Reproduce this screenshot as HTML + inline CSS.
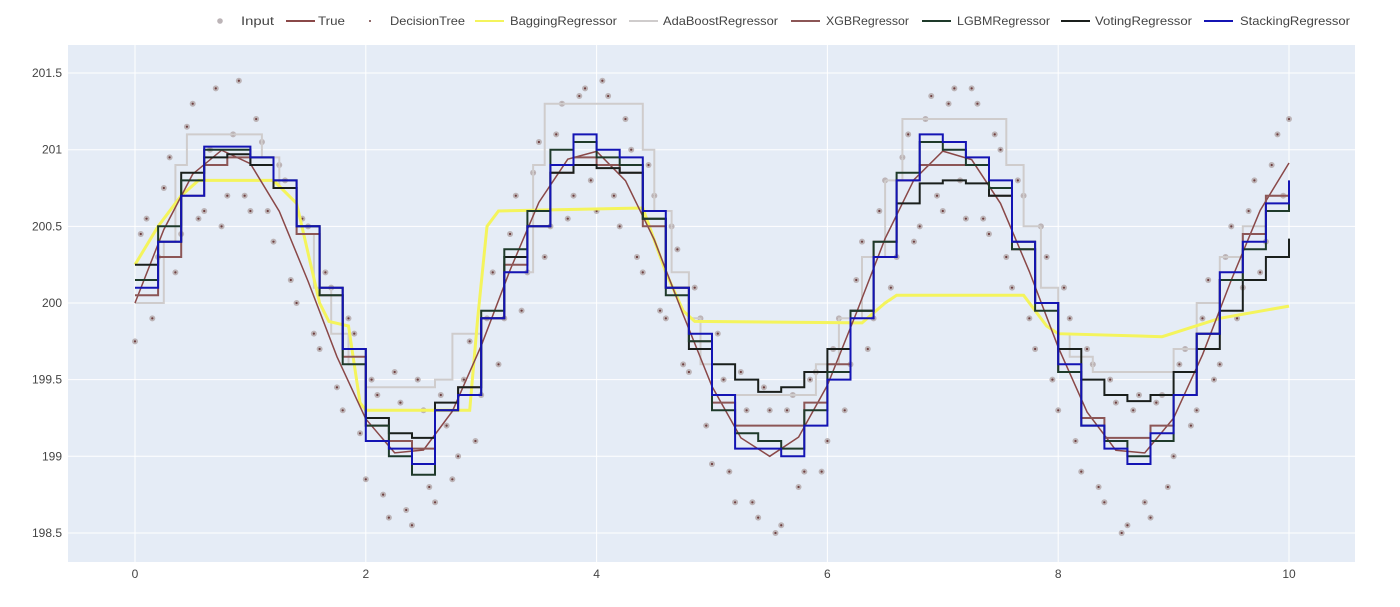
<!DOCTYPE html>
<html><head><meta charset="utf-8"><style>
body{margin:0;background:#fff;font-family:"Liberation Sans",sans-serif;}
svg text{font-family:"Liberation Sans",sans-serif;fill:#444;font-size:12px;}
</style></head><body>
<svg id="chart" width="1400" height="602"></svg>
<script>
const yTicks=[198.5,199,199.5,200,200.5,201,201.5];
const yTickLabels=["198.5","199","199.5","200","200.5","201","201.5"];
const xTicks=[0,2,4,6,8,10];
const xTickLabels=["0","2","4","6","8","10"];
const trueY=[200,200.479,200.841,200.997,200.909,200.598,200.141,199.649,199.243,199.022,199.041,199.294,199.721,200.215,200.657,200.938,200.989,200.798,200.412,199.925,199.456,199.12,199,199.125,199.463,199.934,200.42,200.804,200.991,200.935,200.65,200.206,199.712,199.288,199.039,199.022,199.249,199.662,200.15,200.605,200.913];
const inputYa=[199.75,200.55,200.3,200.95,200.45,201.3,200.6,201.4,200.7,201.45,200.6,201.05,200.4,200.8,200,200.5,199.7,200.1,199.3,199.8,198.85,199.4,198.6,199.35,198.55,199.3,198.7,199.2,199,199.75,199.4,200.2,199.9,200.7,200.2,201.05,200.5,201.3,200.7,201.4,200.6,201.35,200.5,201,200.2,200.7,199.9,200.35,199.55,199.9,198.95,199.5,198.7,199.3,198.6,199.3,198.55,199.4,198.9,199.55,199.1,199.9,199.6,200.4,199.9,200.8,200.3,201.1,200.5,201.35,200.6,201.4,200.55,201.3,200.45,201,200.1,200.7,199.7,200.3,199.3,199.9,198.9,199.6,198.7,199.35,198.55,199.4,198.6,199.4,199,199.7,199.3,200.15,199.6,200.5,200.1,200.8,200.4,201.1,201.2];
const inputYb=[200.45,199.9,200.75,200.2,201.15,200.55,201,200.5,201.1,200.7,201.2,200.6,200.9,200.15,200.55,199.8,200.2,199.45,199.9,199.15,199.5,198.75,199.55,198.65,199.5,198.8,199.4,198.85,199.5,199.1,199.9,199.6,200.45,199.95,200.85,200.3,201.1,200.55,201.35,200.8,201.45,200.7,201.2,200.3,200.9,199.95,200.5,199.6,200.1,199.2,199.8,198.9,199.55,198.7,199.45,198.5,199.3,198.8,199.5,198.9,199.7,199.3,200.15,199.7,200.6,200.1,200.95,200.4,201.2,200.7,201.3,200.8,201.4,200.55,201.1,200.3,200.8,199.9,200.5,199.5,200.1,199.1,199.7,198.8,199.5,198.5,199.3,198.7,199.35,198.8,199.6,199.2,199.9,199.5,200.3,199.9,200.6,200.2,200.9,200.7];
const baggingX=[0,0.2,0.4,0.55,1.2,1.4,1.6,1.68,1.85,1.95,2.0,2.9,2.97,3.05,3.15,4.4,4.6,4.75,4.85,6.3,6.5,6.6,7.7,7.9,8.0,8.9,9.4,10];
const baggingY=[200.25,200.5,200.7,200.8,200.8,200.65,200.0,199.88,199.85,199.35,199.3,199.3,199.9,200.5,200.6,200.62,200.2,199.95,199.88,199.87,200.0,200.05,200.05,199.85,199.8,199.78,199.9,199.98];
const adaX=[0,0.25,0.35,0.45,1.1,1.25,1.4,1.55,1.7,1.85,2.0,2.6,2.75,3.0,3.2,3.45,3.55,4.4,4.5,4.65,4.8,4.9,5.0,5.9,6.1,6.3,6.5,6.65,7.55,7.7,7.85,8.0,8.1,8.3,9.0,9.2,9.4,9.6,9.8];
const adaY=[200.0,200.4,200.9,201.1,200.95,200.75,200.45,200.1,199.8,199.6,199.45,199.5,199.8,199.95,200.2,200.9,201.3,201.0,200.6,200.2,199.9,199.6,199.4,199.6,199.9,200.3,200.8,201.2,200.9,200.5,200.1,199.8,199.65,199.55,199.7,200.0,200.3,200.5,200.7];
const xgbY=[200.05,200.3,200.7,200.9,200.95,200.9,200.75,200.45,200.05,199.65,199.2,199.1,199.05,199.3,199.45,199.9,200.25,200.5,200.85,200.95,200.9,200.85,200.5,200.1,199.75,199.35,199.2,199.2,199.2,199.35,199.6,199.95,200.4,200.8,200.9,200.9,200.9,200.7,200.35,200.0,199.55,199.25,199.12,199.12,199.2,199.4,199.8,200.15,200.45,200.7,200.7];
const lgbmY=[200.15,200.5,200.8,201.0,201.0,200.95,200.8,200.5,200.05,199.6,199.2,199.0,198.88,199.3,199.4,199.95,200.35,200.6,201.0,201.05,200.95,200.9,200.55,200.05,199.75,199.3,199.15,199.1,199.05,199.3,199.55,199.95,200.4,200.85,201.05,201.0,200.9,200.75,200.35,199.95,199.55,199.2,199.1,199.0,199.1,199.4,199.8,200.15,200.35,200.6,200.68];
const votingY=[200.25,200.4,200.85,200.95,200.97,200.9,200.75,200.5,200.1,199.7,199.25,199.15,199.12,199.35,199.45,199.9,200.3,200.5,200.85,200.9,200.88,200.85,200.55,200.1,199.7,199.6,199.5,199.42,199.45,199.55,199.7,199.95,200.3,200.65,200.78,200.8,200.78,200.7,200.4,200.0,199.7,199.5,199.4,199.36,199.4,199.55,199.7,199.95,200.15,200.3,200.42];
const stackingY=[200.1,200.4,200.7,201.02,201.02,200.95,200.8,200.5,200.1,199.7,199.1,199.05,198.95,199.3,199.4,199.9,200.2,200.5,200.9,201.1,201.0,200.95,200.6,200.1,199.8,199.4,199.05,199.05,199.0,199.2,199.5,199.9,200.3,200.8,201.1,201.05,200.95,200.8,200.4,200.0,199.6,199.2,199.05,198.95,199.15,199.4,199.8,200.2,200.4,200.65,200.8];

const NS="http://www.w3.org/2000/svg";
const svg=document.getElementById('chart');
const L=68,R=1355,T=45,B=562;
const X=v=>135+v*115.4;
const Y=v=>303-(v-200)*153.3;
function mk(tag,attrs,parent){const e=document.createElementNS(NS,tag);for(const k in attrs)e.setAttribute(k,attrs[k]);(parent||svg).appendChild(e);return e;}

const bg=mk('rect',{x:L,y:T,width:R-L,height:B-T,fill:'#e5ecf6'});


yTicks.forEach((v,i)=>{
  const g=mk('line',{x1:L,x2:R,y1:Y(v),y2:Y(v),stroke:'#fff','stroke-width':1});
  
  
  const t=mk('text',{x:L-6,y:Y(v)+4,'text-anchor':'end'});t.textContent=yTickLabels[i];
  
  
});
xTicks.forEach((v,i)=>{
  const g=mk('line',{x1:X(v),x2:X(v),y1:T,y2:B,stroke:'#fff','stroke-width':1});
  
  
  const t=mk('text',{x:X(v),y:B+16,'text-anchor':'middle'});t.textContent=xTickLabels[i];
  
  
});

// scatter
const inX=[],inY=[];
inputYa.forEach((v,i)=>{inX.push(i*0.1);inY.push(v);});
inputYb.forEach((v,i)=>{inX.push(i*0.1+0.05);inY.push(v);});
inX.forEach((x,i)=>{
  const c=mk('circle',{cx:X(x),cy:Y(inY[i]),r:3,fill:'#bcb4b7'});
  
  
  const d=mk('circle',{cx:X(x),cy:Y(inY[i]),r:1.1,fill:'#6e3e3e'});
  
  
});

function linePath(xs,ys){return xs.map((x,i)=>(i?'L':'M')+X(x).toFixed(1)+','+Y(ys[i]).toFixed(1)).join('');}
function stepPath(xs,ys,xend){let d='';xs.forEach((x,i)=>{d+=(i?'H'+X(x).toFixed(1)+'V':'M'+X(x).toFixed(1)+',')+Y(ys[i]).toFixed(1);});return d+'H'+X(xend).toFixed(1);}
const grid=stackingY.map((_,i)=>i*0.2);

const p1=mk('path',{d:stepPath(adaX,adaY,10),fill:'none',stroke:'#cfcccc','stroke-width':2});


const p2=mk('path',{d:linePath(baggingX,baggingY),fill:'none',stroke:'#f4f45c','stroke-width':3});


const p3=mk('path',{d:linePath(trueY.map((_,i)=>i*0.25),trueY),fill:'none',stroke:'#8a4848','stroke-width':1.5});


const p4=mk('path',{d:stepPath(grid,xgbY,10),fill:'none',stroke:'#8c5656','stroke-width':2});


const p5=mk('path',{d:stepPath(grid,votingY,10),fill:'none',stroke:'#1a1f1c','stroke-width':2});


const p6=mk('path',{d:stepPath(grid,lgbmY,10),fill:'none',stroke:'#1e3a2a','stroke-width':2});


const p7=mk('path',{d:stepPath(grid,stackingY,10),fill:'none',stroke:'#1414b4','stroke-width':2});



// legend
const legNames=["Input","True","DecisionTree","BaggingRegressor","AdaBoostRegressor","XGBRegressor","LGBMRegressor","VotingRegressor","StackingRegressor"];
const legX=[220,286,370,475,629,791,922,1061,1204];
const legTextX=[241,318,390,510,663,826,957,1095,1240];
const legTextW=[33,27,75,107,115,83,93,97,110];
const legKind=["pt","line","dot","line","line","line","line","line","line"];
const legColor=["#bcb4b7","#8a4848","#6e3e3e","#f4f45c","#cfcccc","#8c5656","#1e3a2a","#1a1f1c","#1414b4"];
legNames.forEach((n,i)=>{
  const g=mk('g',{});
  
  
  if(legKind[i]==='line'){mk('line',{x1:legX[i],x2:legX[i]+29,y1:21,y2:21,stroke:legColor[i],'stroke-width':2},g);}
  else if(legKind[i]==='pt'){mk('circle',{cx:legX[i],cy:21,r:2.8,fill:legColor[i]},g);}
  else{mk('circle',{cx:legX[i],cy:21,r:1,fill:legColor[i]},g);}
  const t=mk('text',{x:legTextX[i],y:25,textLength:legTextW[i],lengthAdjust:'spacingAndGlyphs'},g);t.textContent=n;
});
</script>
</body></html>
